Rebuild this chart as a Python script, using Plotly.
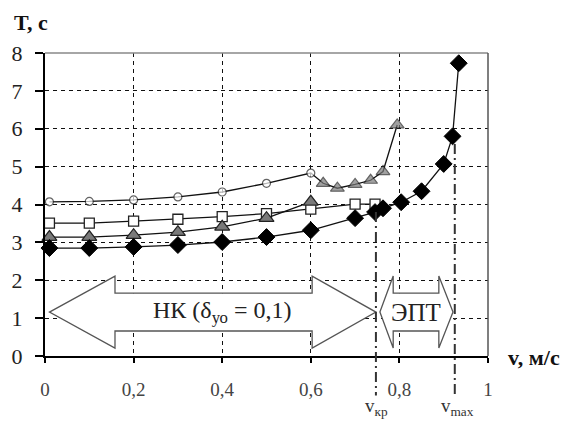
import plotly.graph_objects as go

# ---- data ----
x_circle = [0.01, 0.1, 0.2, 0.3, 0.4, 0.5, 0.6, 0.628, 0.66, 0.70, 0.735, 0.763, 0.795]
y_circle = [4.07, 4.08, 4.12, 4.2, 4.33, 4.56, 4.83, 4.56, 4.43, 4.53, 4.64, 4.87, 6.1]
sym_circle = ["circle"] * 7 + ["triangle-up"] * 6

x_square = [0.01, 0.1, 0.2, 0.3, 0.4, 0.5, 0.6, 0.7, 0.745]
y_square = [3.51, 3.51, 3.56, 3.61, 3.68, 3.76, 3.88, 4.01, 4.01]

x_tri = [0.01, 0.1, 0.2, 0.3, 0.4, 0.5, 0.6]
y_tri = [3.14, 3.14, 3.19, 3.27, 3.41, 3.64, 4.07]

x_dia = [0.01, 0.1, 0.2, 0.3, 0.4, 0.5, 0.6, 0.7, 0.745, 0.763, 0.804, 0.85, 0.90, 0.92, 0.934]
y_dia = [2.85, 2.85, 2.88, 2.93, 3.01, 3.14, 3.32, 3.64, 3.80, 3.90, 4.06, 4.35, 5.07, 5.8, 7.73]

x_ticks = [0, 0.2, 0.4, 0.6, 0.8, 1]
x_ticktext = ["0", "0,2", "0,4", "0,6", "0,8", "1"]
y_ticks = [0, 1, 2, 3, 4, 5, 6, 7, 8]

V_KR = 0.747
V_MAX = 0.925

SERIF = "Liberation Serif, serif"

fig = go.Figure()

line_style = dict(color="#111", width=1.3)

fig.add_trace(go.Scatter(
    x=x_circle, y=y_circle, mode="lines+markers", line=line_style,
    marker=dict(symbol=sym_circle,
                size=[8] * 7 + [12] * 6,
                color=["white"] * 7 + ["#7a7a7a"] * 6,
                line=dict(color="#222", width=1.2)),
    showlegend=False, cliponaxis=False))
fig.add_trace(go.Scatter(
    x=x_square, y=y_square, mode="lines+markers", line=line_style,
    marker=dict(symbol="square", size=10, color="white",
                line=dict(color="#222", width=1.3)),
    showlegend=False, cliponaxis=False))
fig.add_trace(go.Scatter(
    x=x_tri, y=y_tri, mode="lines+markers", line=line_style,
    marker=dict(symbol="triangle-up", size=13, color="#7a7a7a",
                line=dict(color="#222", width=1.2)),
    showlegend=False, cliponaxis=False))
fig.add_trace(go.Scatter(
    x=x_dia, y=y_dia, mode="lines+markers", line=line_style,
    marker=dict(symbol="diamond", size=13, color="black",
                line=dict(color="black", width=1)),
    showlegend=False, cliponaxis=False))


def arrow_path(x_left, x_lhead, x_rhead, x_right, y_mid, y_head_top, y_head_bot, y_shaft_top, y_shaft_bot):
    pts = [(x_left, y_mid), (x_lhead, y_head_top), (x_lhead, y_shaft_top), (x_rhead, y_shaft_top),
           (x_rhead, y_head_top), (x_right, y_mid), (x_rhead, y_head_bot), (x_rhead, y_shaft_bot),
           (x_lhead, y_shaft_bot), (x_lhead, y_head_bot)]
    return "M " + " L ".join(f"{a},{b}" for a, b in pts) + " Z"


shapes = [
    # frame top/right (gray)
    dict(type="line", xref="paper", yref="paper", x0=0, x1=1, y0=1, y1=1,
         line=dict(color="#888", width=1.5), layer="above"),
    dict(type="line", xref="paper", yref="paper", x0=1, x1=1, y0=0, y1=1,
         line=dict(color="#555", width=1.5), layer="above"),
    # block arrows
    dict(type="path", xref="x", yref="y",
         path=arrow_path(0.01, 0.158, 0.603, V_KR, 1.16, 2.11, 0.21, 1.66, 0.66),
         fillcolor="white", line=dict(color="#555", width=1.3), layer="above"),
    dict(type="path", xref="x", yref="y",
         path=arrow_path(0.756, 0.786, 0.889, 0.921, 1.16, 2.11, 0.21, 1.66, 0.66),
         fillcolor="white", line=dict(color="#555", width=1.3), layer="above"),
    # dash-dot markers for v_kr and v_max
    dict(type="line", xref="x", yref="paper", x0=V_KR, x1=V_KR, y0=0.475, y1=-0.13,
         line=dict(color="#333", width=2, dash="10px,4px,2px,4px"), layer="above"),
    dict(type="line", xref="x", yref="paper", x0=V_MAX, x1=V_MAX, y0=0.70, y1=-0.13,
         line=dict(color="#333", width=2, dash="10px,4px,2px,4px"), layer="above"),
]

annotations = [
    dict(text="НК (δ<sub>уо</sub> = 0,1)", x=0.40, y=1.16, xref="x", yref="y",
         xanchor="center", yanchor="middle",
         showarrow=False, font=dict(family=SERIF, size=24, color="#222")),
    dict(text="ЭПТ", x=0.8375, y=1.16, xref="x", yref="y",
         xanchor="center", yanchor="middle",
         showarrow=False, font=dict(family=SERIF, size=25, color="#222")),
    dict(text="<b>T, c</b>", x=-0.075, y=1.10, xref="paper", yref="paper",
         xanchor="left", yanchor="middle",
         showarrow=False, font=dict(family=SERIF, size=22, color="#111")),
    dict(text="<b>v, м/с</b>", x=1.04, y=-0.005, xref="paper", yref="paper",
         xanchor="left", yanchor="middle",
         showarrow=False, font=dict(family=SERIF, size=22, color="#111")),
    dict(text="v<sub>кр</sub>", x=V_KR + 0.002, y=-0.168, xref="x", yref="paper",
         xanchor="center", yanchor="middle",
         showarrow=False, font=dict(family=SERIF, size=19, color="#333")),
    dict(text="v<sub>max</sub>", x=V_MAX + 0.006, y=-0.168, xref="x", yref="paper",
         xanchor="center", yanchor="middle",
         showarrow=False, font=dict(family=SERIF, size=19, color="#333")),
]

# the page body adds an 8px margin, so the figure is sized/shifted to compensate
fig.update_layout(
    width=560, height=413,
    margin=dict(l=37, r=80, t=45, b=65),
    paper_bgcolor="white", plot_bgcolor="white",
    shapes=shapes, annotations=annotations,
    font=dict(family=SERIF),
)
fig.update_xaxes(
    range=[0, 1], tickvals=x_ticks, ticktext=x_ticktext,
    showgrid=True, gridcolor="#111", gridwidth=1.3, griddash="4px,4px",
    showline=True, linecolor="black", linewidth=2,
    ticks="outside", ticklen=5, tickcolor="black", tickwidth=1.5,
    ticklabelstandoff=10, automargin=False,
    tickfont=dict(family=SERIF, size=19, color="#444"), zeroline=False,
)
fig.update_yaxes(
    range=[0, 8], tickvals=y_ticks,
    showgrid=True, gridcolor="#111", gridwidth=1.3, griddash="4px,4px",
    showline=True, linecolor="black", linewidth=2,
    ticks="outside", ticklen=8, tickcolor="black", tickwidth=1.5,
    ticklabelstandoff=8, automargin=False,
    tickfont=dict(family=SERIF, size=22, color="#222"), zeroline=False,
)

fig.write_html("out.html")
